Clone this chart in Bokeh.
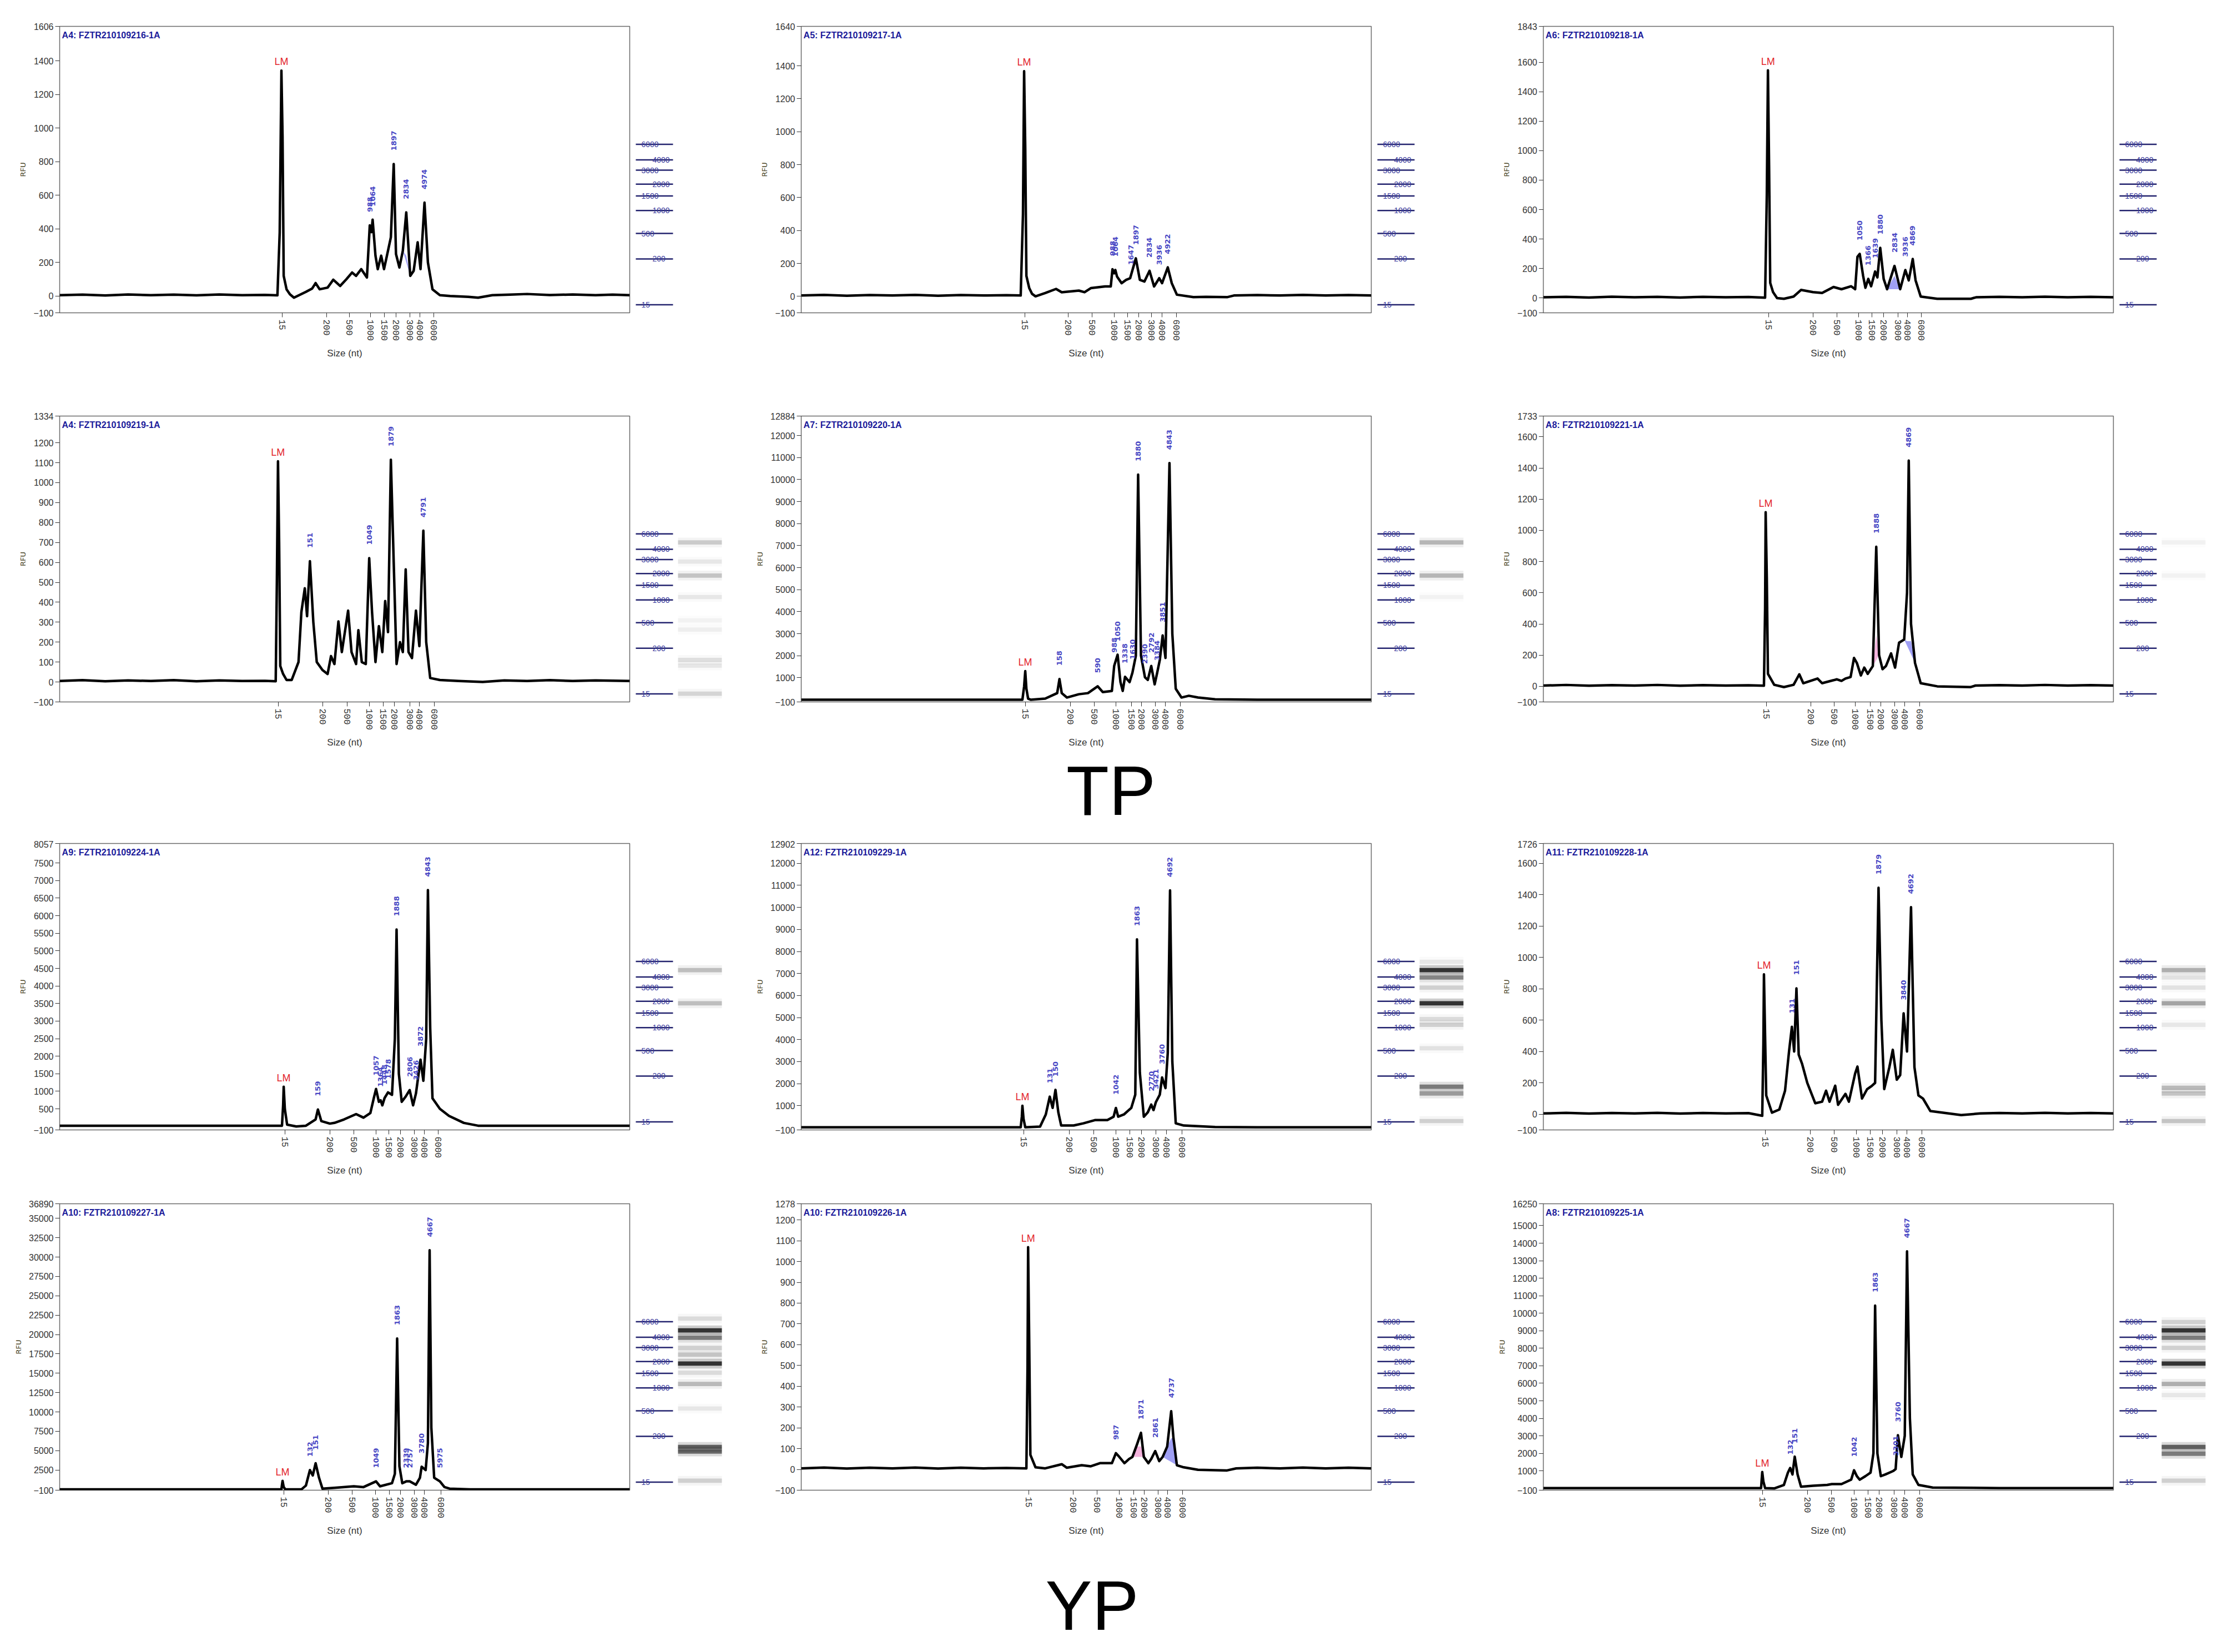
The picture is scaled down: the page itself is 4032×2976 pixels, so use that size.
import math
from bokeh.plotting import figure
from bokeh.models import Range1d, FixedTicker, CustomJSTickFormatter, Spacer
from bokeh.layouts import row, column
from bokeh.core.properties import value
from bokeh.embed import file_html
from bokeh.resources import INLINE

# ---------------- shared ladder ----------------
SIZE_LABELS = ["15", "200", "500", "1000", "1500", "2000", "3000", "4000", "6000"]
LADDER_LABELS = ["6000", "4000", "3000", "2000", "1500", "1000", "500", "200", "15"]
LADDER_GEL = [58.8, 53.4, 49.8, 44.9, 40.8, 35.7, 27.7, 18.8, 2.8]

# ---------------- sample titles ----------------
TITLE_216 = "A4: FZTR210109216-1A"
TITLE_217 = "A5: FZTR210109217-1A"
TITLE_218 = "A6: FZTR210109218-1A"
TITLE_219 = "A4: FZTR210109219-1A"
TITLE_220 = "A7: FZTR210109220-1A"
TITLE_221 = "A8: FZTR210109221-1A"
TITLE_224 = "A9: FZTR210109224-1A"
TITLE_229 = "A12: FZTR210109229-1A"
TITLE_228 = "A11: FZTR210109228-1A"
TITLE_227 = "A10: FZTR210109227-1A"
TITLE_226 = "A10: FZTR210109226-1A"
TITLE_225 = "A8: FZTR210109225-1A"

# ---------------- y ticks (RFU) ----------------
YT_216 = [-100, 0, 200, 400, 600, 800, 1000, 1200, 1400, 1606]
YT_217 = [-100, 0, 200, 400, 600, 800, 1000, 1200, 1400, 1640]
YT_218 = [-100, 0, 200, 400, 600, 800, 1000, 1200, 1400, 1600, 1843]
YT_219 = [-100, 0, 100, 200, 300, 400, 500, 600, 700, 800, 900, 1000, 1100, 1200, 1334]
YT_220 = [-100, 1000, 2000, 3000, 4000, 5000, 6000, 7000, 8000, 9000, 10000, 11000, 12000, 12884]
YT_221 = [-100, 0, 200, 400, 600, 800, 1000, 1200, 1400, 1600, 1733]
YT_224 = [-100, 500, 1000, 1500, 2000, 2500, 3000, 3500, 4000, 4500, 5000, 5500, 6000, 6500, 7000, 7500, 8057]
YT_229 = [-100, 1000, 2000, 3000, 4000, 5000, 6000, 7000, 8000, 9000, 10000, 11000, 12000, 12902]
YT_228 = [-100, 0, 200, 400, 600, 800, 1000, 1200, 1400, 1600, 1726]
YT_227 = [-100, 2500, 5000, 7500, 10000, 12500, 15000, 17500, 20000, 22500, 25000, 27500, 30000, 32500, 35000, 36890]
YT_226 = [-100, 0, 100, 200, 300, 400, 500, 600, 700, 800, 900, 1000, 1100, 1200, 1278]
YT_225 = [-100, 1000, 2000, 3000, 4000, 5000, 6000, 7000, 8000, 9000, 10000, 11000, 12000, 13000, 14000, 15000, 16250]

# ---------------- x positions (migration, % of run) of ladder sizes ----------------
XT_216 = [39.0, 46.8, 50.8, 54.5, 57.0, 59.0, 61.4, 63.2, 65.6]
XT_217 = [39.2, 46.8, 51.0, 54.9, 57.3, 59.2, 61.4, 63.3, 65.8]
XT_218 = [39.5, 47.3, 51.5, 55.3, 57.6, 59.7, 62.2, 63.9, 66.3]
XT_219 = [38.4, 46.2, 50.4, 54.3, 56.8, 58.7, 61.4, 63.1, 65.7]
XT_220 = [39.3, 47.2, 51.4, 55.2, 57.9, 59.7, 62.1, 63.9, 66.5]
XT_221 = [39.1, 46.9, 51.0, 54.7, 57.4, 59.2, 61.6, 63.4, 66.0]
XT_224 = [39.5, 47.4, 51.6, 55.5, 57.7, 59.8, 62.2, 64.0, 66.4]
XT_229 = [39.0, 47.0, 51.3, 55.2, 57.6, 59.7, 62.2, 64.1, 66.8]
XT_228 = [38.9, 46.8, 51.0, 54.9, 57.4, 59.5, 62.0, 63.8, 66.4]
XT_227 = [39.3, 47.1, 51.3, 55.4, 57.8, 59.8, 62.2, 64.0, 66.9]
XT_226 = [39.9, 47.7, 51.9, 55.8, 58.3, 60.2, 62.6, 64.3, 66.9]
XT_225 = [38.5, 46.3, 50.5, 54.5, 57.0, 58.9, 61.5, 63.4, 66.0]

# ---------------- traces (migration %, RFU) ----------------
TRACE_216 = [(0,5),(4,8),(8,3),(12,9),(16,5),(20,8),(24,4),(28,9),(32,5),(36,7),(38.2,4),(38.6,380),(38.9,1342),(39.1,950),(39.3,120),(39.8,40),(40.4,10),(41.1,-10),(42.0,5),(43.2,25),(44.3,45),(44.9,77),(45.6,40),(47.0,50),(48.0,97),(49.2,60),(50.3,100),(51.3,140),(52.0,120),(52.9,160),(53.9,110),(54.4,421),(54.7,380),(54.9,455),(55.4,240),(55.8,160),(56.4,240),(56.9,160),(57.6,270),(58.1,350),(58.6,786),(59.0,250),(59.6,170),(60.2,270),(60.8,498),(61.5,120),(62.1,150),(62.8,320),(63.3,160),(64.0,556),(64.6,200),(65.4,40),(66.7,5),(68.5,0),(71.7,-5),(73.4,-10),(75.9,5),(79,8),(82,12),(86,6),(90,9),(94,5),(97,8),(100,5)]
TRACE_217 = [(0,5),(4,9),(8,4),(12,8),(16,5),(20,9),(24,4),(28,8),(32,5),(36,7),(38.5,5),(38.9,500),(39.1,1368),(39.3,900),(39.5,124),(40.0,50),(40.5,15),(41.1,0),(42.8,20),(44.7,45),(45.7,25),(48.7,35),(49.7,25),(50.8,50),(53.3,60),(54.3,60),(54.6,165),(54.9,140),(55.1,160),(55.4,120),(56.2,80),(57.0,100),(57.7,110),(58.7,231),(59.4,100),(60.2,90),(61.1,155),(61.9,60),(62.8,110),(63.3,80),(64.3,176),(65.0,80),(65.9,10),(68.8,-5),(71,-3),(74.7,-5),(75.9,5),(80,8),(84,5),(88,9),(92,5),(96,8),(100,5)]
TRACE_218 = [(0,5),(4,8),(8,4),(12,9),(16,5),(20,8),(24,4),(28,8),(32,5),(36,7),(38.9,3),(39.2,700),(39.4,1545),(39.6,900),(39.8,103),(40.3,40),(41.0,0),(42.2,-5),(43.9,10),(45.2,55),(47.3,40),(48.9,35),(50.9,75),(52.3,60),(54.0,80),(54.7,60),(55.1,280),(55.5,300),(56.1,150),(56.5,70),(57.0,130),(57.5,80),(58.2,180),(58.6,140),(59.1,341),(59.7,130),(60.3,60),(61.6,218),(62.6,60),(63.5,190),(64.1,120),(64.8,265),(65.3,120),(66.2,10),(69.1,-5),(75.0,-5),(75.9,5),(80,8),(84,5),(88,9),(92,5),(96,8),(100,5)]
TRACE_219 = [(0,5),(4,9),(8,4),(12,8),(16,5),(20,9),(24,4),(28,8),(32,5),(36,6),(37.9,4),(38.1,500),(38.3,1107),(38.5,700),(38.7,80),(39.2,40),(39.8,10),(40.7,10),(41.9,100),(42.4,350),(43.0,470),(43.4,330),(43.9,606),(44.5,300),(45.1,100),(46.1,60),(47.0,40),(47.6,130),(48.2,90),(48.9,304),(49.5,150),(50.6,358),(51.2,150),(52.0,90),(52.4,260),(53.0,100),(53.7,90),(54.3,621),(54.8,350),(55.4,100),(56.0,280),(56.6,150),(57.1,406),(57.6,250),(58.1,1115),(58.6,600),(59.1,90),(59.7,200),(60.2,150),(60.7,565),(61.2,150),(61.8,120),(62.5,358),(63.1,180),(63.8,759),(64.3,200),(65.0,20),(66.7,10),(70,5),(74.2,0),(78,8),(82,5),(86,9),(90,5),(94,8),(100,5)]
TRACE_220 = [(0,0),(10,0),(20,0),(30,0),(38.8,0),(39.1,600),(39.3,1298),(39.5,500),(39.8,50),(40.3,0),(42.8,50),(44.9,300),(45.3,940),(45.7,300),(46.6,100),(48.7,250),(50.3,300),(52.0,610),(52.9,350),(54.5,400),(54.9,1535),(55.5,2046),(56.0,800),(56.4,400),(56.8,1040),(57.6,800),(58.1,1226),(58.7,2000),(59.1,10226),(59.6,2000),(60.3,1021),(60.8,900),(61.4,1534),(62.0,700),(62.4,1175),(62.9,1800),(63.4,2919),(63.9,1900),(64.6,10750),(65.1,3000),(65.7,500),(66.7,100),(68.0,180),(69.6,100),(72.6,20),(80,0),(90,0),(100,0)]
TRACE_221 = [(0,5),(4,9),(8,4),(12,8),(16,5),(20,9),(24,4),(28,8),(32,5),(36,7),(38.7,4),(38.9,500),(39.0,1116),(39.2,700),(39.4,80),(40.5,10),(42.2,-5),(43.9,10),(44.9,77),(45.6,20),(48.1,50),(48.9,20),(51.5,45),(52.3,35),(53.0,50),(53.9,60),(54.5,182),(55.0,150),(55.7,70),(56.3,120),(56.9,80),(57.8,130),(58.4,895),(58.9,200),(59.5,110),(60.1,130),(61.0,211),(61.7,120),(62.4,280),(63.3,300),(63.8,600),(64.1,1447),(64.5,400),(65.2,150),(66.2,20),(69.1,0),(74.9,-5),(75.8,5),(80,8),(84,5),(88,9),(92,5),(96,8),(100,5)]
TRACE_224 = [(0,20),(10,20),(20,20),(30,20),(39.0,20),(39.2,600),(39.3,1130),(39.5,500),(39.9,50),(41.5,0),(43.2,20),(44.9,200),(45.3,482),(45.9,150),(47.4,80),(48.2,100),(49.9,200),(52.0,350),(53.3,250),(54.5,380),(55.1,800),(55.5,1066),(56.0,700),(56.3,745),(56.6,600),(57.0,809),(57.6,970),(58.3,900),(58.8,2500),(59.1,5607),(59.5,1500),(60.0,700),(60.7,850),(61.4,1034),(62.0,600),(62.5,938),(63.3,1901),(63.8,1300),(64.3,2500),(64.6,6731),(65.0,2800),(65.4,800),(66.7,500),(68.3,300),(70.9,100),(73.4,20),(80,20),(90,20),(100,20)]
TRACE_229 = [(0,20),(10,20),(20,20),(30,20),(38.5,20),(38.7,500),(38.8,995),(39.0,400),(39.3,20),(41.9,50),(42.9,600),(43.6,1410),(44.1,900),(44.6,1717),(45.1,700),(45.6,100),(47.8,100),(49.5,200),(51.6,350),(53.7,350),(54.8,500),(55.2,897),(55.6,500),(56.6,600),(57.9,900),(58.6,1500),(58.9,8550),(59.4,2500),(60.1,500),(60.8,700),(61.4,1050),(61.8,800),(62.2,1153),(62.9,1500),(63.3,2280),(63.9,1800),(64.3,3400),(64.7,10770),(65.1,3000),(65.7,200),(67.1,100),(72.6,30),(80,20),(90,20),(100,20)]
TRACE_228 = [(0,5),(4,9),(8,4),(12,8),(16,5),(20,9),(24,4),(28,8),(32,5),(36,7),(38.4,-10),(38.6,450),(38.7,892),(38.9,500),(39.1,120),(40.1,10),(41.4,30),(42.4,150),(43.1,400),(43.6,557),(44.0,400),(44.4,802),(44.8,380),(45.4,320),(46.3,200),(47.7,70),(48.9,80),(49.6,150),(50.2,80),(51.2,182),(51.7,60),(53.0,130),(53.6,80),(54.7,260),(55.1,304),(55.9,100),(56.8,160),(57.6,180),(58.2,200),(58.8,1444),(59.3,600),(59.8,160),(60.7,300),(61.3,411),(62.0,220),(62.6,250),(63.2,643),(63.8,400),(64.5,1320),(65.1,300),(65.8,120),(66.6,100),(67.9,20),(73.3,-5),(76.7,5),(80,8),(84,5),(88,9),(92,5),(96,8),(100,5)]
TRACE_227 = [(0,0),(10,0),(20,0),(30,0),(38.9,0),(39.0,600),(39.1,1100),(39.3,300),(39.6,0),(42.4,0),(43.2,500),(43.9,2500),(44.4,1800),(44.9,3375),(45.5,1500),(46.1,100),(48.2,200),(51.6,400),(53.3,300),(55.5,1040),(56.2,400),(58.3,800),(58.8,2000),(59.2,19491),(59.6,3000),(60.1,800),(60.8,1040),(61.4,1040),(62.5,600),(63.2,1500),(63.5,2935),(64.2,2500),(64.6,6000),(64.9,30880),(65.2,8000),(65.7,1500),(66.7,1040),(67.5,300),(68.4,100),(72,0),(80,0),(90,0),(100,0)]
TRACE_226 = [(0,5),(4,9),(8,4),(12,8),(16,5),(20,9),(24,4),(28,8),(32,5),(36,7),(39.5,5),(39.7,500),(39.8,1069),(40.0,600),(40.2,70),(41.1,10),(42.8,5),(45.7,25),(46.6,8),(49.2,20),(50.8,15),(52.4,30),(54.5,30),(55.2,78),(55.8,60),(56.7,30),(57.5,50),(58.1,60),(58.9,120),(59.6,176),(60.1,60),(60.9,30),(61.4,50),(62.1,88),(62.8,40),(63.4,60),(64.2,110),(64.9,280),(65.3,150),(65.9,20),(67.1,10),(69.6,-2),(74.7,-5),(76.3,5),(80,8),(84,5),(88,9),(92,5),(96,8),(100,5)]
TRACE_225 = [(0,20),(10,20),(20,20),(30,20),(38.2,20),(38.3,500),(38.4,935),(38.6,400),(38.9,20),(40.5,0),(42.2,200),(42.9,900),(43.3,1168),(43.7,800),(44.1,1813),(44.6,800),(45.2,100),(47.3,150),(49.8,200),(50.6,250),(52.3,250),(54.0,500),(54.5,1039),(55.0,700),(55.5,500),(56.5,700),(57.4,900),(57.9,2000),(58.2,10432),(58.6,2000),(59.2,700),(60.0,800),(60.7,900),(61.4,1000),(61.8,1103),(62.2,3039),(62.8,1800),(63.4,3000),(63.8,13529),(64.3,4000),(64.8,800),(65.8,200),(68.3,50),(80,20),(90,20),(100,20)]

# ---------------- lower marker (LM) peak ----------------
LM_216 = (38.9, 1342)
LM_217 = (39.1, 1368)
LM_218 = (39.4, 1545)
LM_219 = (38.3, 1107)
LM_220 = (39.3, 1298)
LM_221 = (39.0, 1116)
LM_224 = (39.3, 1130)
LM_229 = (38.8, 995)
LM_228 = (38.7, 892)
LM_227 = (39.1, 1100)
LM_226 = (39.8, 1069)
LM_225 = (38.4, 935)

# ---------------- called peaks (migration %, RFU, size label) ----------------
PEAKS_216 = [(54.4,421,"988"),(54.9,455,"1064"),(58.6,786,"1897"),(60.8,498,"2834"),(64.0,556,"4974")]
PEAKS_217 = [(54.6,165,"988"),(55.1,160,"1064"),(57.8,110,"1647"),(58.7,231,"1897"),(61.1,155,"2834"),(62.8,110,"3936"),(64.3,176,"4922")]
PEAKS_218 = [(55.5,300,"1050"),(57.0,130,"1366"),(58.2,180,"1639"),(59.1,341,"1880"),(61.6,218,"2834"),(63.5,190,"3936"),(64.8,265,"4869")]
PEAKS_219 = [(43.9,606,"151"),(54.3,621,"1049"),(58.1,1115,"1879"),(63.8,759,"4791")]
PEAKS_220 = [(45.3,940,"158"),(52.0,610,"590"),(54.9,1535,"988"),(55.5,2046,"1050"),(56.8,1040,"1338"),(58.1,1226,"1630"),(59.1,10226,"1880"),(60.3,1021,"2390"),(61.4,1534,"2792"),(62.4,1175,"3384"),(63.4,2919,"3851"),(64.6,10750,"4843")]
PEAKS_221 = [(58.4,895,"1888"),(64.1,1447,"4869")]
PEAKS_224 = [(45.3,482,"159"),(55.5,1066,"1057"),(56.3,745,"1364"),(57.0,809,"1448"),(57.6,970,"1578"),(59.1,5607,"1888"),(61.4,1034,"2806"),(62.5,938,"3426"),(63.3,1901,"3872"),(64.6,6731,"4843")]
PEAKS_229 = [(43.6,1410,"131"),(44.6,1717,"150"),(55.2,897,"1042"),(58.9,8550,"1863"),(61.4,1050,"2770"),(62.2,1153,"3421"),(63.3,2280,"3760"),(64.7,10770,"4692")]
PEAKS_228 = [(43.6,557,"131"),(44.4,802,"151"),(58.8,1444,"1879"),(63.2,643,"3840"),(64.5,1320,"4692")]
PEAKS_227 = [(43.9,2500,"132"),(44.9,3375,"151"),(55.5,1040,"1049"),(59.2,19491,"1863"),(60.8,1040,"2339"),(61.4,1040,"2757"),(63.5,2935,"3780"),(64.9,30880,"4667"),(66.7,1040,"5975")]
PEAKS_226 = [(55.2,78,"987"),(59.6,176,"1871"),(62.1,88,"2861"),(64.9,280,"4737")]
PEAKS_225 = [(43.3,1168,"132"),(44.1,1813,"151"),(54.5,1039,"1042"),(58.2,10432,"1863"),(61.8,1103,"3301"),(62.2,3039,"3760"),(63.8,13529,"4667")]

# ---------------- shaded smear regions (from %, to %, RFU cap, kind) ----------------
SHADE_216 = [(58.1, 59.0, 300, "pink"), (60.2, 61.5, 240, "blue")]
SHADE_217 = []
SHADE_218 = [(60.3, 62.6, 150, "blue")]
SHADE_219 = [(57.6, 58.6, 260, "pink")]
SHADE_220 = []
SHADE_221 = [(57.8, 58.9, 330, "pink"), (63.3, 65.2, 290, "blue")]
SHADE_224 = []
SHADE_229 = []
SHADE_228 = [(58.2, 59.3, 230, "pink")]
SHADE_227 = []
SHADE_226 = [(58.1, 60.1, 110, "pink"), (63.4, 65.9, 150, "blue")]
SHADE_225 = []

# ---------------- gel lane bands (gel migration %, intensity 0-1) ----------------
GEL_216 = []
GEL_217 = []
GEL_218 = []
GEL_219 = [(55.8,0.22),(49.1,0.1),(44.2,0.25),(36.7,0.1),(28.5,0.05),(25.3,0.07),(14.7,0.13),(12.7,0.1),(2.9,0.18)]
GEL_220 = [(55.8,0.32),(44.2,0.32),(36.7,0.05)]
GEL_221 = [(55.8,0.06),(44.2,0.05)]
GEL_224 = [(55.8,0.28),(44.2,0.28)]
GEL_229 = [(58.7,0.1),(55.8,1.0),(53.2,0.55),(49.7,0.2),(44.2,1.0),(38.7,0.15),(36.7,0.2),(28.5,0.12),(15.1,0.6),(12.7,0.45),(3.1,0.2)]
GEL_228 = [(55.8,0.35),(53.2,0.12),(49.7,0.12),(44.2,0.4),(36.7,0.1),(14.7,0.3),(12.7,0.25),(3.1,0.25)]
GEL_227 = [(59.9,0.15),(55.8,1.0),(53.2,0.6),(49.7,0.2),(47.3,0.25),(44.2,1.0),(41.0,0.15),(37.1,0.3),(28.5,0.1),(15.1,0.75),(13.5,0.7),(3.3,0.2)]
GEL_226 = []
GEL_225 = [(58.7,0.2),(55.8,1.0),(53.2,0.6),(49.7,0.2),(44.2,1.0),(37.1,0.35),(33.2,0.1),(15.1,0.75),(12.7,0.6),(3.3,0.2)]

PANELS = [
    [(TITLE_216, YT_216, XT_216, TRACE_216, LM_216, PEAKS_216, SHADE_216, GEL_216),
     (TITLE_217, YT_217, XT_217, TRACE_217, LM_217, PEAKS_217, SHADE_217, GEL_217),
     (TITLE_218, YT_218, XT_218, TRACE_218, LM_218, PEAKS_218, SHADE_218, GEL_218)],
    [(TITLE_219, YT_219, XT_219, TRACE_219, LM_219, PEAKS_219, SHADE_219, GEL_219),
     (TITLE_220, YT_220, XT_220, TRACE_220, LM_220, PEAKS_220, SHADE_220, GEL_220),
     (TITLE_221, YT_221, XT_221, TRACE_221, LM_221, PEAKS_221, SHADE_221, GEL_221)],
    [(TITLE_224, YT_224, XT_224, TRACE_224, LM_224, PEAKS_224, SHADE_224, GEL_224),
     (TITLE_229, YT_229, XT_229, TRACE_229, LM_229, PEAKS_229, SHADE_229, GEL_229),
     (TITLE_228, YT_228, XT_228, TRACE_228, LM_228, PEAKS_228, SHADE_228, GEL_228)],
    [(TITLE_227, YT_227, XT_227, TRACE_227, LM_227, PEAKS_227, SHADE_227, GEL_227),
     (TITLE_226, YT_226, XT_226, TRACE_226, LM_226, PEAKS_226, SHADE_226, GEL_226),
     (TITLE_225, YT_225, XT_225, TRACE_225, LM_225, PEAKS_225, SHADE_225, GEL_225)],
]

# ---------------- layout constants ----------------
FRAME_W, FRAME_H = 1027, 516
B_LEFT, B_RIGHT = 99, 2
ROW_BORDERS = [(39, 90), (39, 84), (5, 90), (39, 90)]   # (top, bottom) per row
MAIN_W = B_LEFT + FRAME_W + B_RIGHT
LAD_W = 180
TOTAL_W = 3981
PAGE_PAD = 8

SANS = "Liberation Sans"
SHADE_COLORS = {"pink": "#f09ad2", "blue": "#7f7ff0"}

NEAREST_JS = """
let b = 0; let d = Infinity;
for (let i = 0; i < pos.length; i++) { const e = Math.abs(pos[i] - tick); if (e < d) { d = e; b = i; } }
return lab[b];
"""


def main_panel(title, yt, xt, trace, lm, peaks, shades, bt, bb):
    ymax = yt[-1]
    p = figure(width=MAIN_W, height=bt + FRAME_H + bb, x_range=Range1d(0, 100), y_range=Range1d(-100, ymax),
               output_backend="svg", toolbar_location=None,
               min_border_left=B_LEFT, min_border_right=B_RIGHT,
               min_border_top=bt, min_border_bottom=bb)
    p.grid.visible = False
    p.outline_line_color = "#6a6a6a"
    p.outline_line_width = 1.5
    p.background_fill_color = "white"
    p.border_fill_color = "white"

    xa = p.xaxis[0]
    xa.ticker = FixedTicker(ticks=xt)
    xa.formatter = CustomJSTickFormatter(args=dict(pos=xt, lab=SIZE_LABELS), code=NEAREST_JS)
    xa.major_label_orientation = "vertical"
    xa.major_tick_out = 8
    xa.major_tick_in = 0
    xa.minor_tick_line_color = None
    xa.axis_line_color = None
    xa.major_tick_line_color = "#333333"
    xa.major_label_text_font = "Liberation Mono"
    xa.major_label_text_font_size = "16px"
    xa.major_label_text_color = "#333333"
    xa.major_label_standoff = 4
    xa.axis_label = "Size (nt)"
    xa.axis_label_text_font = SANS
    xa.axis_label_text_font_style = "normal"
    xa.axis_label_text_font_size = "17px"
    xa.axis_label_text_color = "#333333"
    xa.axis_label_standoff = 10

    ya = p.yaxis[0]
    ya.ticker = FixedTicker(ticks=yt)
    ya.major_tick_out = 8
    ya.major_tick_in = 0
    ya.minor_tick_line_color = None
    ya.axis_line_color = None
    ya.major_tick_line_color = "#333333"
    ya.major_label_text_font = SANS
    ya.major_label_text_font_size = "16px"
    ya.major_label_text_color = "#333333"
    ya.major_label_standoff = 3
    ya.axis_label = "RFU"
    ya.axis_label_text_font = "DejaVu Sans"
    ya.axis_label_text_font_style = "normal"
    ya.axis_label_text_font_size = "13px"
    ya.axis_label_text_color = "#4a4526"
    ya.axis_label_standoff = 8

    # shaded smear areas under selected peaks (between a chord and the trace, capped)
    for (x0, x1, cap, kind) in shades:
        pts = [t for t in trace if x0 <= t[0] <= x1]
        (ax, ay), (bx, by) = pts[0], pts[-1]
        sx = [t[0] for t in pts]
        lo = [ay + (by - ay) * (t[0] - ax) / (bx - ax) for t in pts]
        hi = [max(l, min(t[1], cap)) for t, l in zip(pts, lo)]
        p.varea(x=sx, y1=lo, y2=hi, fill_color=SHADE_COLORS[kind], fill_alpha=0.75)

    xs = [t[0] for t in trace]
    ys = [t[1] for t in trace]
    p.line(xs, ys, line_color="black", line_width=4.5, line_join="round")

    p.text(x=[lm[0]], y=[lm[1]], text=["LM"], text_align="center", text_baseline="bottom",
           y_offset=-6, text_font=value(SANS), text_font_size="18px", text_color="#e3262b")

    p.text(x=[k[0] for k in peaks], y=[k[1] for k in peaks], text=[k[2] for k in peaks],
           angle=math.pi / 2, text_align="left", text_baseline="middle", y_offset=-24,
           text_font=value("DejaVu Sans"), text_font_style="bold", text_font_size="13px",
           text_color="#4747c4")

    p.text(x=[0.4], y=[ymax], text=[title], text_align="left", text_baseline="top", y_offset=7,
           text_font=value(SANS), text_font_style="bold", text_font_size="16px",
           text_color="#1a1a9a")
    return p


def ladder_panel(gel, bt, bb):
    g = figure(width=LAD_W, height=bt + FRAME_H + bb, x_range=Range1d(0, LAD_W), y_range=Range1d(0, 100),
               output_backend="svg", toolbar_location=None,
               x_axis_location=None, y_axis_location=None,
               min_border_left=0, min_border_right=0, min_border_top=bt, min_border_bottom=bb)
    g.grid.visible = False
    g.outline_line_color = None
    g.background_fill_color = "white"
    g.border_fill_color = "white"
    if gel:
        gy = [b[0] for b in gel]
        gi = [b[1] for b in gel]
        g.rect(x=[124.5] * len(gy), y=gy, width=79, height=3.4, fill_color="black",
               fill_alpha=[0.2 * v for v in gi], line_color=None)
        g.rect(x=[124.5] * len(gy), y=gy, width=79, height=1.5, fill_color="black",
               fill_alpha=[0.75 * v for v in gi], line_color=None)
    g.segment(x0=[9] * len(LADDER_GEL), x1=[76] * len(LADDER_GEL), y0=LADDER_GEL, y1=LADDER_GEL,
              line_color="#23236e", line_width=2.5)
    lx = [19 if i % 2 == 0 else 39 for i in range(len(LADDER_GEL))]
    g.text(x=lx, y=LADDER_GEL, text=LADDER_LABELS, text_align="left", text_baseline="middle",
           text_font=value(SANS), text_font_size="14px", text_color="#3b3b9c")
    return g


def big_label(txt, h, cx, mid_y):
    f = figure(width=TOTAL_W, height=h, x_range=Range1d(0, TOTAL_W), y_range=Range1d(0, h),
               output_backend="svg", toolbar_location=None,
               x_axis_location=None, y_axis_location=None, min_border=0)
    f.grid.visible = False
    f.outline_line_color = None
    f.text(x=[cx], y=[mid_y], text=[txt], text_align="center", text_baseline="middle",
           text_font=value(SANS), text_font_size="126px", text_color="black")
    return f


rows = []
for ri, r in enumerate(PANELS):
    bt, bb = ROW_BORDERS[ri]
    items = []
    for ci, (title, yt, xt, trace, lm, peaks, shades, gel) in enumerate(r):
        items.append(main_panel(title, yt, xt, trace, lm, peaks, shades, bt, bb))
        items.append(ladder_panel(gel, bt, bb))
        if ci == 0:
            items.append(Spacer(width=28, height=bt + FRAME_H + bb))
        elif ci == 1:
            items.append(Spacer(width=29, height=bt + FRAME_H + bb))
    rows.append(row(*items))

tp = big_label("TP", 165, 1993, 90)
yp = big_label("YP", 200, 1959, 82)

inner = column(rows[0], Spacer(width=TOTAL_W, height=57), rows[1], tp,
               rows[2], Spacer(width=TOTAL_W, height=4), rows[3], yp)
layout = column(Spacer(width=TOTAL_W + PAGE_PAD, height=PAGE_PAD),
                row(Spacer(width=PAGE_PAD, height=10), inner))

open("out.html", "w").write(file_html(layout, INLINE))
